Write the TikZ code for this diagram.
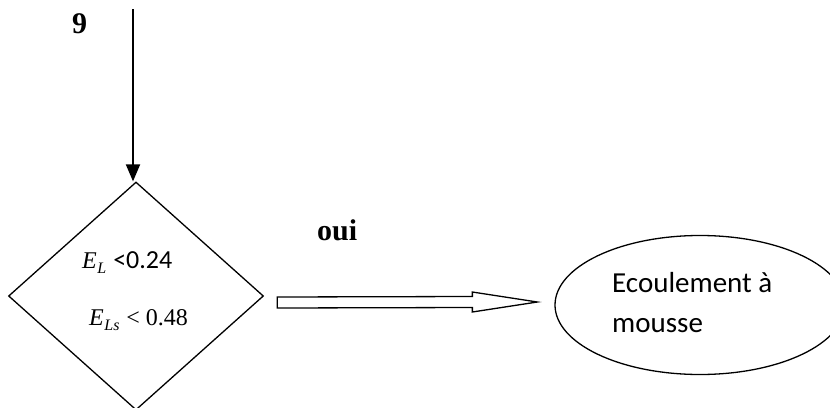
\documentclass[tikz,border=0pt]{standalone}
\usepackage{fontspec}
\setmainfont{Liberation Serif}
\newfontfamily\calib{Carlito}
\usetikzlibrary{shapes.geometric,calc,arrows.meta}
% italic variable with a lowered index, set in the text font
\newcommand\varidx[2]{{\itshape #1}\kern0.5pt\raisebox{-5pt}{\fontsize{16}{17}\selectfont\itshape #2}}
\begin{document}
\begin{tikzpicture}[x=1pt,y=-1pt,
  flowline/.style={line width=2pt},
  boxline/.style={line width=1.3pt},
  lbl/.style={anchor=base west, inner sep=0pt},
  boldlbl/.style={lbl, font=\bfseries\fontsize{30}{32}\selectfont},
  condlbl/.style={lbl, font=\fontsize{24}{28}\selectfont},
  resultlbl/.style={lbl, font=\calib\fontsize{29}{34}\selectfont}]
\useasboundingbox (0,0) rectangle (830,407);

% decision and result shapes
\node[diamond, draw, boxline, minimum width=255pt, minimum height=228pt, inner sep=0pt] (dec) at (136,296) {};
\node[ellipse, draw, boxline, minimum width=290pt, minimum height=139pt, inner sep=0pt] (ell) at (700,305) {};

% incoming flow
\coordinate (top) at (133,9);
\draw[flowline, -{Triangle[length=17pt,width=14pt]}] (top) -- (top |- dec.north);
\node[boldlbl] (num) at (72,33) {9};

% conditions
\node[condlbl] (c1) at (82,268) {\varidx{E}{L}\hspace{7pt}{\calib\fontsize{26}{28}\selectfont <0.24}};
\node[condlbl] (c2) at (89,325) {\varidx{E}{Ls}\hspace{7pt}<\hspace{6pt}0.48};

% hollow arrow towards the result
\coordinate (tail) at ($(dec.east)+(13,6.5)$);
\coordinate (tip) at ($(ell.west)+(-17,-3)$);
\draw[boxline] ($(tail)+(0,-5.5)$) -- ($(tip)+(-65,-5.5)$) -- ($(tip)+(-65,-10)$) -- (tip)
  -- ($(tip)+(-65,10)$) -- ($(tip)+(-65,5.5)$) -- ($(tail)+(0,5.5)$) -- cycle;
\node[boldlbl] (yes) at (317,240) {oui};

% result text
\node[resultlbl] (r1) at (612,292) {Ecoulement à};
\node[resultlbl] (r2) at (612,332) {mousse};
\end{tikzpicture}
\end{document}
